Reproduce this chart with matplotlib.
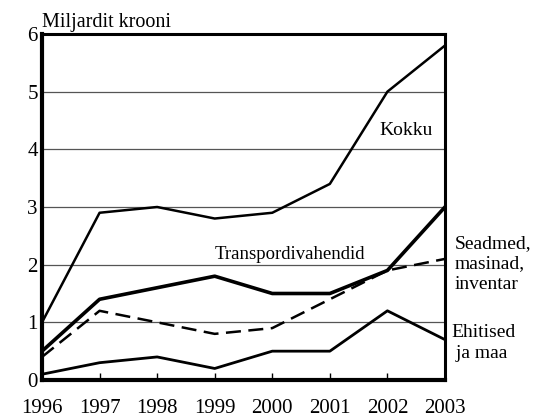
import matplotlib.pyplot as plt

plt.rcParams["font.family"] = ["Liberation Serif", "DejaVu Serif"]

YEARS: list[int] = [1996, 1997, 1998, 1999, 2000, 2001, 2002, 2003]
KOKKU: list[float] = [1.0, 2.9, 3.0, 2.8, 2.9, 3.4, 5.0, 5.8]
TRANSPORT: list[float] = [0.5, 1.4, 1.6, 1.8, 1.5, 1.5, 1.9, 3.0]
SEADMED: list[float] = [0.4, 1.2, 1.0, 0.8, 0.9, 1.4, 1.9, 2.1]
EHITISED: list[float] = [0.1, 0.3, 0.4, 0.2, 0.5, 0.5, 1.2, 0.7]
Y_TICKS: list[int] = [0, 1, 2, 3, 4, 5, 6]

fig = plt.figure(figsize=(5.47, 4.18), dpi=100)
ax = fig.add_axes([0.0768, 0.0909, 0.7367, 0.8278])

ax.plot(YEARS, KOKKU, color="black", lw=1.8)
ax.plot(YEARS, TRANSPORT, color="black", lw=2.6)
ax.plot(YEARS, SEADMED, color="black", lw=1.8, dashes=(6, 3))
ax.plot(YEARS, EHITISED, color="black", lw=2.0)

ax.set_xlim(YEARS[0], YEARS[-1])
ax.set_ylim(0, 6)
ax.set_yticks(Y_TICKS)
ax.set_xticks(YEARS)
ax.set_xticklabels([str(y) for y in YEARS])
ax.tick_params(axis="y", length=0, labelsize=15, pad=3)
ax.tick_params(axis="x", direction="in", length=5, width=1, labelsize=15, pad=14)
for s in ax.spines.values():
    s.set_linewidth(2.2)
ax.spines["left"].set_linewidth(3)
ax.spines["bottom"].set_linewidth(3)
ax.grid(axis="y", color="#555555", lw=0.9)
ax.set_axisbelow(True)

ax.text(0, 1.005, "Miljardit krooni", transform=ax.transAxes, fontsize=14.5,
        ha="left", va="bottom")
ax.text(2001.86, 4.33, "Kokku", fontsize=14, ha="left", va="center")
ax.text(1999.0, 2.18, "Transpordivahendid", fontsize=13.5, ha="left", va="center")
ax.text(1.025, 0.335, "Seadmed,\nmasinad,\ninventar", transform=ax.transAxes,
        fontsize=14, ha="left", va="center", linespacing=1.3)
ax.text(1.015, 0.107, "Ehitised\n ja maa", transform=ax.transAxes,
        fontsize=14, ha="left", va="center", linespacing=1.3)

fig.savefig("out.png", dpi=100)
